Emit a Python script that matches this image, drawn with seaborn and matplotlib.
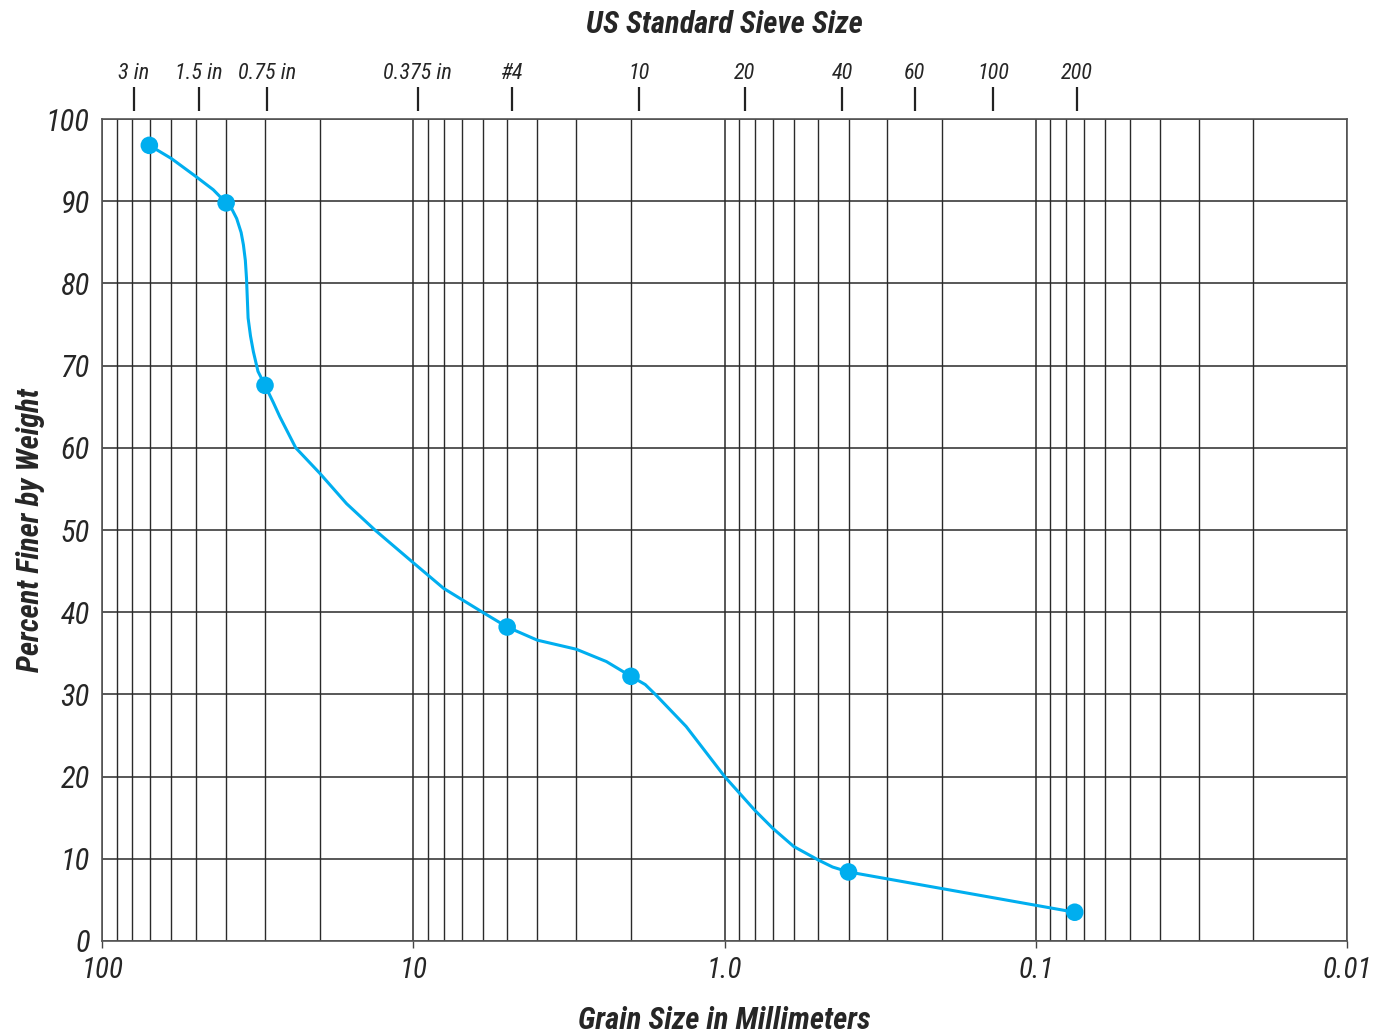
import numpy as np
import pandas as pd
import matplotlib
matplotlib.use("Agg")
import matplotlib.pyplot as plt
import seaborn as sns
from matplotlib.ticker import FixedLocator, NullLocator, LogLocator

# sieve test results (grain size in mm, percent finer)
grain_mm = [70.6, 40, 30, 5.0, 2.0, 0.4, 0.075]
pct_finer = [96.8, 89.8, 67.6, 38.2, 32.2, 8.4, 3.5]

# drawn gradation curve
curve_mm = [70.6, 60, 50, 44, 40, 38.4, 37, 35.8, 35.2, 34.7, 34.4, 34.0, 33.4, 32.7, 31.6, 30,
            28.2, 26.9, 23.9, 20, 16.4, 13.3, 10, 8, 6, 5, 4, 3, 2.4, 2,
            1.8, 1.66, 1.33, 1.0, 0.8, 0.7, 0.6, 0.5, 0.45, 0.4, 0.075]
curve_pct = [96.8, 95.2, 93.0, 91.4, 89.8, 89.1, 87.9, 86.2, 84.7, 82.8, 80.6, 75.8, 73.6, 71.7, 69.3, 67.6,
             65.5, 63.8, 60.0, 56.9, 53.2, 50.0, 46.0, 42.9, 40.0, 38.2, 36.6, 35.5, 34.0, 32.2,
             31.2, 29.9, 26.1, 20.0, 15.9, 13.7, 11.5, 9.85, 9.0, 8.4, 3.5]

# top axis: US standard sieves, positions as drawn
sieve_labels = ["3 in", "1.5 in", "0.75 in", "0.375 in", "#4", "10", "20", "40", "60", "100", "200"]
sieve_mm = [79.3, 49.0, 29.6, 9.68, 4.83, 1.89, 0.862, 0.419, 0.245, 0.137, 0.074]

x_ticks = [100, 10, 1.0, 0.1, 0.01]
x_ticklabels = ["100", "10", "1.0", "0.1", "0.01"]
y_ticks = list(range(0, 101, 10))

sns.set_style("white")
plt.rcParams['font.family'] = ['Roboto Condensed', 'Liberation Sans Narrow', 'DejaVu Sans']
plt.rcParams['font.stretch'] = 'condensed'
plt.rcParams['font.style'] = 'italic'

BLUE = '#00AEEF'
GRID = '#2a2a2a'

fig = plt.figure(figsize=(13.88, 10.36), dpi=100)
ax = fig.add_axes([0.0737, 0.0917, 0.8968, 0.7934])
ax.set_xscale('log')

curve = pd.DataFrame({'mm': curve_mm, 'pct': curve_pct})
pts = pd.DataFrame({'mm': grain_mm, 'pct': pct_finer})
sns.lineplot(data=curve, x='mm', y='pct', sort=False, estimator=None,
             color=BLUE, linewidth=2.2, ax=ax, zorder=3)
sns.scatterplot(data=pts, x='mm', y='pct', color=BLUE, s=160, edgecolor='none',
                ax=ax, zorder=4)

ax.set_xlim(100, 0.01)
ax.set_ylim(0, 100)

# grid: every log step vertically, every 10 % horizontally
ax.xaxis.set_major_locator(FixedLocator(x_ticks))
ax.xaxis.set_minor_locator(LogLocator(base=10, subs=np.arange(2, 10)))
ax.xaxis.set_minor_formatter(plt.NullFormatter())
ax.set_xticks(x_ticks, x_ticklabels)
ax.set_yticks(y_ticks)
ax.grid(True, which='major', axis='both', color=GRID, linewidth=1.1)
ax.grid(True, which='minor', axis='x', color=GRID, linewidth=1.0)
ax.tick_params(axis='x', which='major', direction='out', length=5, width=1,
               color='#444444', labelsize=21, pad=6)
ax.tick_params(axis='x', which='minor', length=0)
ax.tick_params(axis='y', direction='out', length=5, width=1,
               color='#444444', labelsize=22, pad=4)
for side in ['left', 'right', 'top', 'bottom']:
    ax.spines[side].set_color('#555555')
    ax.spines[side].set_linewidth(1.2)

ax.set_xlabel('Grain Size in Millimeters', fontsize=22, fontweight='bold', labelpad=16)
ax.set_ylabel('Percent Finer by Weight', fontsize=22, fontweight='bold', labelpad=1)

# sieve scale on top
top = ax.twiny()
top.set_xscale('log')
top.set_xlim(ax.get_xlim())
top.xaxis.set_minor_locator(NullLocator())
top.set_xticks(sieve_mm, sieve_labels)
top.spines['top'].set_position(('outward', 6))
top.spines['top'].set_visible(False)
for side in ['left', 'right', 'bottom']:
    top.spines[side].set_visible(False)
top.tick_params(axis='x', direction='out', length=17, width=1.6, color='#222222',
                labelsize=16, pad=2)
top.set_xlabel('US Standard Sieve Size', fontsize=22, fontweight='bold', labelpad=22)
top.grid(False)

fig.savefig('out.png', dpi=100)
